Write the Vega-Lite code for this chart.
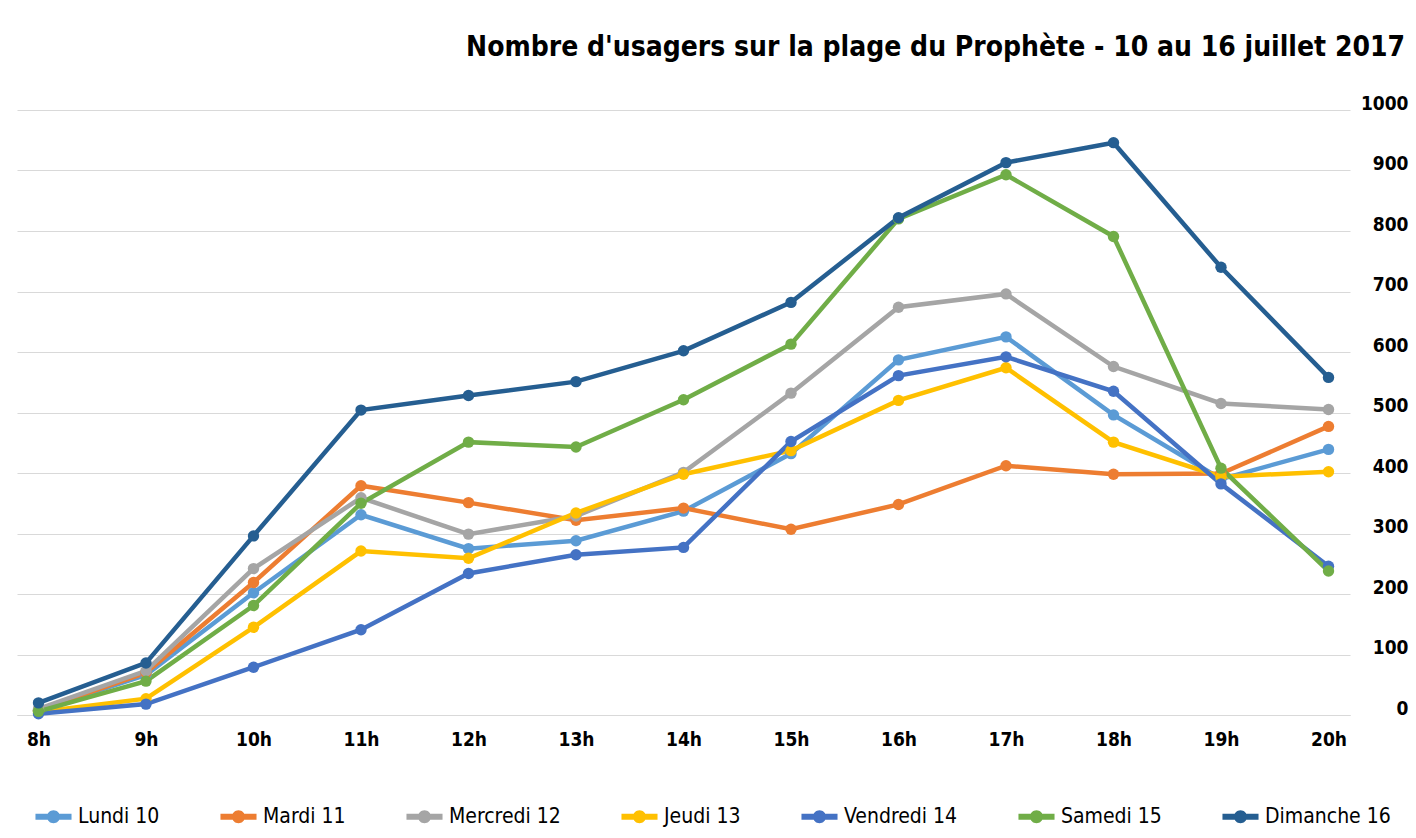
{
  "$schema": "https://vega.github.io/schema/vega-lite/v6.json",
  "width": 1333,
  "height": 605,
  "autosize": {"type": "none"},
  "padding": {"left": 17, "top": 110, "right": 66, "bottom": 123},
  "background": "white",
  "title": {
    "text": "Nombre d'usagers sur la plage du Prophète - 10 au 16 juillet 2017",
    "anchor": "end",
    "frame": "group",
    "dx": 55,
    "offset": 32,
    "font": "DejaVu Sans Condensed",
    "fontSize": 28,
    "fontWeight": "bold",
    "color": "#000000"
  },
  "config": {
    "view": {"stroke": null},
    "font": "DejaVu Sans Condensed"
  },
  "datasets": {
    "rows": [
      {"h": "8h", "jour": "Lundi 10", "n": 8}, {"h": "9h", "jour": "Lundi 10", "n": 66}, {"h": "10h", "jour": "Lundi 10", "n": 202}, {"h": "11h", "jour": "Lundi 10", "n": 331}, {"h": "12h", "jour": "Lundi 10", "n": 275}, {"h": "13h", "jour": "Lundi 10", "n": 288}, {"h": "14h", "jour": "Lundi 10", "n": 337}, {"h": "15h", "jour": "Lundi 10", "n": 432}, {"h": "16h", "jour": "Lundi 10", "n": 587}, {"h": "17h", "jour": "Lundi 10", "n": 625}, {"h": "18h", "jour": "Lundi 10", "n": 496}, {"h": "19h", "jour": "Lundi 10", "n": 390}, {"h": "20h", "jour": "Lundi 10", "n": 439},
      {"h": "8h", "jour": "Mardi 11", "n": 8}, {"h": "9h", "jour": "Mardi 11", "n": 70}, {"h": "10h", "jour": "Mardi 11", "n": 219}, {"h": "11h", "jour": "Mardi 11", "n": 379}, {"h": "12h", "jour": "Mardi 11", "n": 351}, {"h": "13h", "jour": "Mardi 11", "n": 322}, {"h": "14h", "jour": "Mardi 11", "n": 342}, {"h": "15h", "jour": "Mardi 11", "n": 307}, {"h": "16h", "jour": "Mardi 11", "n": 348}, {"h": "17h", "jour": "Mardi 11", "n": 412}, {"h": "18h", "jour": "Mardi 11", "n": 398}, {"h": "19h", "jour": "Mardi 11", "n": 399}, {"h": "20h", "jour": "Mardi 11", "n": 477},
      {"h": "8h", "jour": "Mercredi 12", "n": 10}, {"h": "9h", "jour": "Mercredi 12", "n": 73}, {"h": "10h", "jour": "Mercredi 12", "n": 242}, {"h": "11h", "jour": "Mercredi 12", "n": 359}, {"h": "12h", "jour": "Mercredi 12", "n": 299}, {"h": "13h", "jour": "Mercredi 12", "n": 329}, {"h": "14h", "jour": "Mercredi 12", "n": 401}, {"h": "15h", "jour": "Mercredi 12", "n": 532}, {"h": "16h", "jour": "Mercredi 12", "n": 674}, {"h": "17h", "jour": "Mercredi 12", "n": 696}, {"h": "18h", "jour": "Mercredi 12", "n": 576}, {"h": "19h", "jour": "Mercredi 12", "n": 515}, {"h": "20h", "jour": "Mercredi 12", "n": 505},
      {"h": "8h", "jour": "Jeudi 13", "n": 5}, {"h": "9h", "jour": "Jeudi 13", "n": 27}, {"h": "10h", "jour": "Jeudi 13", "n": 145}, {"h": "11h", "jour": "Jeudi 13", "n": 271}, {"h": "12h", "jour": "Jeudi 13", "n": 259}, {"h": "13h", "jour": "Jeudi 13", "n": 334}, {"h": "14h", "jour": "Jeudi 13", "n": 398}, {"h": "15h", "jour": "Jeudi 13", "n": 437}, {"h": "16h", "jour": "Jeudi 13", "n": 520}, {"h": "17h", "jour": "Jeudi 13", "n": 574}, {"h": "18h", "jour": "Jeudi 13", "n": 451}, {"h": "19h", "jour": "Jeudi 13", "n": 394}, {"h": "20h", "jour": "Jeudi 13", "n": 402},
      {"h": "8h", "jour": "Vendredi 14", "n": 2}, {"h": "9h", "jour": "Vendredi 14", "n": 18}, {"h": "10h", "jour": "Vendredi 14", "n": 79}, {"h": "11h", "jour": "Vendredi 14", "n": 141}, {"h": "12h", "jour": "Vendredi 14", "n": 234}, {"h": "13h", "jour": "Vendredi 14", "n": 265}, {"h": "14h", "jour": "Vendredi 14", "n": 277}, {"h": "15h", "jour": "Vendredi 14", "n": 452}, {"h": "16h", "jour": "Vendredi 14", "n": 561}, {"h": "17h", "jour": "Vendredi 14", "n": 592}, {"h": "18h", "jour": "Vendredi 14", "n": 535}, {"h": "19h", "jour": "Vendredi 14", "n": 382}, {"h": "20h", "jour": "Vendredi 14", "n": 246},
      {"h": "8h", "jour": "Samedi 15", "n": 6}, {"h": "9h", "jour": "Samedi 15", "n": 56}, {"h": "10h", "jour": "Samedi 15", "n": 181}, {"h": "11h", "jour": "Samedi 15", "n": 350}, {"h": "12h", "jour": "Samedi 15", "n": 451}, {"h": "13h", "jour": "Samedi 15", "n": 443}, {"h": "14h", "jour": "Samedi 15", "n": 521}, {"h": "15h", "jour": "Samedi 15", "n": 613}, {"h": "16h", "jour": "Samedi 15", "n": 820}, {"h": "17h", "jour": "Samedi 15", "n": 893}, {"h": "18h", "jour": "Samedi 15", "n": 791}, {"h": "19h", "jour": "Samedi 15", "n": 408}, {"h": "20h", "jour": "Samedi 15", "n": 238},
      {"h": "8h", "jour": "Dimanche 16", "n": 20}, {"h": "9h", "jour": "Dimanche 16", "n": 86}, {"h": "10h", "jour": "Dimanche 16", "n": 296}, {"h": "11h", "jour": "Dimanche 16", "n": 504}, {"h": "12h", "jour": "Dimanche 16", "n": 528}, {"h": "13h", "jour": "Dimanche 16", "n": 551}, {"h": "14h", "jour": "Dimanche 16", "n": 602}, {"h": "15h", "jour": "Dimanche 16", "n": 682}, {"h": "16h", "jour": "Dimanche 16", "n": 822}, {"h": "17h", "jour": "Dimanche 16", "n": 913}, {"h": "18h", "jour": "Dimanche 16", "n": 946}, {"h": "19h", "jour": "Dimanche 16", "n": 740}, {"h": "20h", "jour": "Dimanche 16", "n": 558}
    ]
  },
  "data": {"name": "rows"},
  "encoding": {
    "x": {
      "field": "h", "type": "nominal", "sort": null,
      "scale": {"type": "point", "padding": 0.2},
      "axis": {
        "title": null, "labelAngle": 0, "ticks": false,
        "domain": true, "domainColor": "#D9D9D9", "domainWidth": 1,
        "labelFont": "DejaVu Sans Condensed", "labelFontSize": 19, "labelFontWeight": "bold",
        "labelColor": "#000000", "labelPadding": 15
      }
    },
    "y": {
      "field": "n", "type": "quantitative",
      "scale": {"domain": [0, 1000], "nice": false},
      "axis": {
        "orient": "right", "title": null, "values": [0, 100, 200, 300, 400, 500, 600, 700, 800, 900, 1000],
        "format": "d",
        "domain": false, "ticks": false, "grid": true, "gridColor": "#D9D9D9", "gridWidth": 1,
        "labelAlign": "right", "labelPadding": 58, "labelOffset": -7,
        "labelFont": "DejaVu Sans Condensed", "labelFontSize": 19, "labelFontWeight": "bold",
        "labelColor": "#000000"
      }
    },
    "color": {
      "field": "jour", "type": "nominal",
      "scale": {
        "domain": ["Lundi 10", "Mardi 11", "Mercredi 12", "Jeudi 13", "Vendredi 14", "Samedi 15", "Dimanche 16"],
        "range": ["#5B9BD5", "#ED7D31", "#A5A5A5", "#FFC000", "#4472C4", "#70AD47", "#255E91"]
      },
      "legend": {
        "title": null, "orient": "none", "legendX": 18, "legendY": 688,
        "direction": "horizontal", "columns": 7, "columnPadding": 60,
        "symbolType": "M-1,-0.16L1,-0.16L1,0.16L-1,0.16Z M0.36,0A0.36,0.36,0,1,1,-0.36,0A0.36,0.36,0,1,1,0.36,0Z",
        "symbolSize": 1300, "symbolStrokeWidth": 0, "symbolOpacity": 1,
        "labelFont": "DejaVu Sans Condensed", "labelFontSize": 21, "labelColor": "#000000",
        "labelOffset": 6
      }
    }
  },
  "layer": [
    {"mark": {"type": "line", "strokeWidth": 4.5}},
    {"mark": {"type": "point", "filled": true, "size": 130, "opacity": 1}}
  ]
}
